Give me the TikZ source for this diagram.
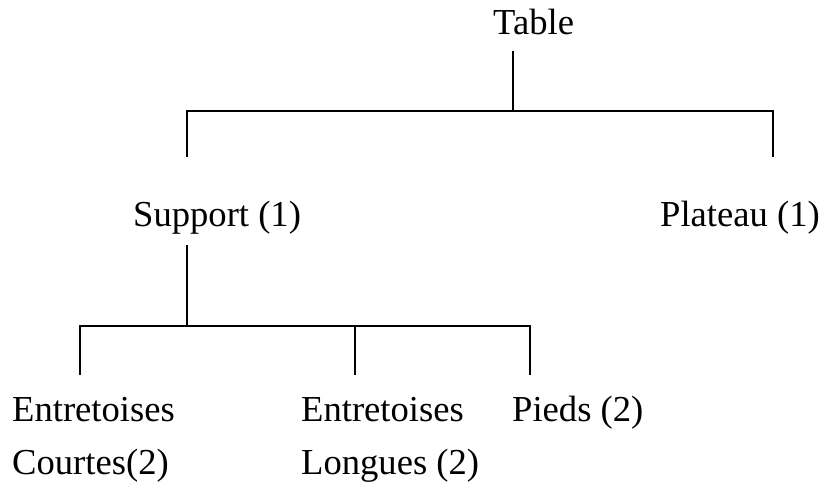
\documentclass[tikz,border=0pt]{standalone}
\usepackage{fontspec}
\setmainfont{Liberation Serif}
\begin{document}
\begin{tikzpicture}[x=1pt,y=1pt,
  lbl/.style={anchor=base west,inner sep=0pt,font=\fontsize{36.6}{44}\selectfont},
  branch/.style={line width=1.6pt}]
\useasboundingbox (0,0) rectangle (825,498);
% text nodes (y = 498 - pixel y of baseline)
\node[lbl] (table) at (493,463) {Table};
\node[lbl] (support) at (133,271) {Support (1)};
\node[lbl] (plateau) at (660,271) {Plateau (1)};
\node[lbl] (ec1) at (12,76) {Entretoises};
\node[lbl] (ec2) at (12,23) {Courtes(2)};
\node[lbl] (el1) at (301,76) {Entretoises};
\node[lbl] (el2) at (301,23) {Longues (2)};
\node[lbl] (pieds) at (512,76) {Pieds (2)};
% junction coordinates
\coordinate (t0) at (513,447);
\coordinate (t1) at (513,387);
\coordinate (sL) at (187,387);
\coordinate (sR) at (773,387);
\coordinate (sLe) at (187,341);
\coordinate (sRe) at (773,341);
\coordinate (u0) at (187,253);
\coordinate (u1) at (187,172);
\coordinate (a) at (80,172);
\coordinate (b) at (355,172);
\coordinate (c) at (530,172);
\coordinate (ae) at (80,123);
\coordinate (be) at (355,123);
\coordinate (ce) at (530,123);
\draw[branch] (t0) -- (t1);
\draw[branch] (sLe) -- (sL) -- (sR) -- (sRe);
\draw[branch] (u0) -- (u1);
\draw[branch] (ae) -- (a) -- (c) -- (ce);
\draw[branch] (b) -- (be);
\end{tikzpicture}
\end{document}
